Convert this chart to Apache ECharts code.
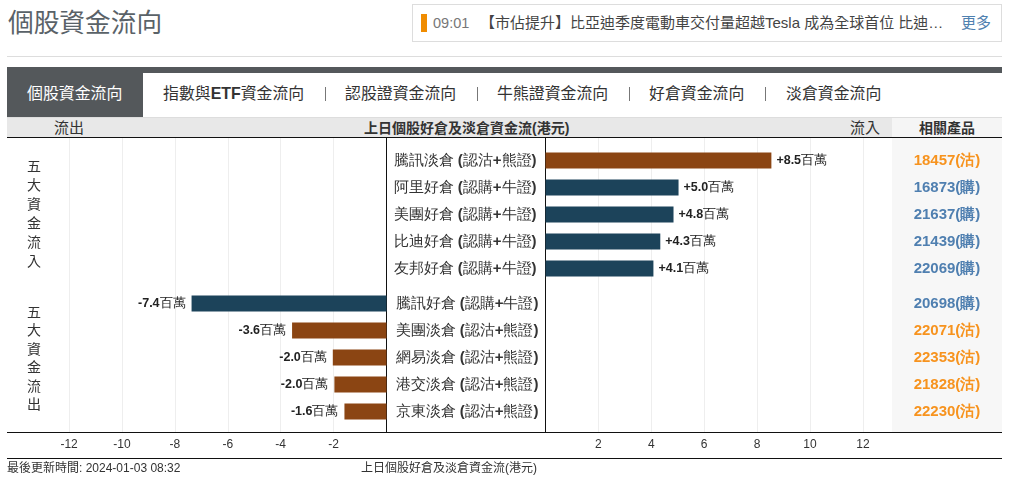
<!DOCTYPE html>
<html>
<head>
<meta charset="utf-8">
<title>個股資金流向</title>
<script src="https://cdn.jsdelivr.net/npm/echarts@6/dist/echarts.min.js"></script>
<style>
  html, body { margin: 0; padding: 0; background: #fff; }
  body { width: 1012px; height: 490px; position: relative; overflow: hidden;
    font-family: "Liberation Sans", Arial, "Noto Sans CJK TC", sans-serif; color: #333; }
  .abs { position: absolute; white-space: nowrap; }
  #main { position: absolute; left: 0; top: 0; width: 1012px; height: 490px; }
  .sep { top: 87px; width: 1px; height: 14px; background: #777; }
  .tab { font-size: 15.9px; color: #333; top: 85px; line-height: 18px; }
  .side { left: 26px; width: 16px; font-size: 14px; text-align: center; white-space: normal; color: #333; }
</style>
</head>
<body>
<!-- 頁頭 -->
<div class="abs" style="left:8px;top:7px;font-size:25.7px;line-height:32px;color:#5a6268;">個股資金流向</div>
<div class="abs" style="left:412px;top:4px;width:588px;height:36px;border:1px solid #ddd;"></div>
<div class="abs" style="left:421px;top:14px;width:6px;height:18px;background:#f08c00;"></div>
<div class="abs" style="left:433px;top:14px;font-size:14.5px;line-height:18px;color:#777;">09:01</div>
<div class="abs" style="left:480px;top:14px;font-size:15px;line-height:18px;color:#444;">【市佔提升】比亞迪季度電動車交付量超越Tesla 成為全球首位 比迪…</div>
<div class="abs" style="left:961px;top:14px;font-size:15px;line-height:18px;color:#4f81b0;">更多</div>
<div class="abs" style="left:7px;top:56px;width:995px;height:1px;background:#ddd;"></div>

<!-- 分頁 -->
<div class="abs" style="left:7px;top:67px;width:995px;height:6px;background:#54585b;"></div>
<div class="abs" style="left:7px;top:67px;width:136px;height:50px;background:#54585b;"></div>
<div class="abs" style="left:27px;top:85px;font-size:15.9px;line-height:18px;color:#fff;">個股資金流向</div>
<div class="abs tab" style="left:163px;">指數與<b>ETF</b>資金流向</div>
<div class="abs sep" style="left:325px;"></div>
<div class="abs tab" style="left:345px;">認股證資金流向</div>
<div class="abs sep" style="left:477px;"></div>
<div class="abs tab" style="left:497px;">牛熊證資金流向</div>
<div class="abs sep" style="left:629px;"></div>
<div class="abs tab" style="left:649px;">好倉資金流向</div>
<div class="abs sep" style="left:765px;"></div>
<div class="abs tab" style="left:786px;">淡倉資金流向</div>

<!-- 表頭 -->
<div class="abs" style="left:7px;top:117px;width:995px;height:20px;background:#e8e8e8;border-top:1px solid #ddd;box-sizing:border-box;"></div>
<div class="abs" style="left:892px;top:118px;width:110px;height:19px;background:#f5f5f5;"></div>
<div class="abs" style="left:892px;top:137px;width:110px;height:295px;background:#f7f7f7;"></div>
<div class="abs" style="left:54px;top:120px;font-size:15px;line-height:16px;">流出</div>
<div class="abs" style="left:364px;top:120px;font-size:14px;line-height:16px;font-weight:bold;">上日個股好倉及淡倉資金流(港元)</div>
<div class="abs" style="left:850px;top:120px;font-size:15px;line-height:16px;">流入</div>
<div class="abs" style="left:919px;top:120px;font-size:14px;line-height:16px;font-weight:bold;">相關產品</div>
<div class="abs" style="left:7px;top:137px;width:995px;height:1px;background:#111;"></div>

<!-- 圖表 -->
<div id="main"></div>
<div class="abs side" style="top:157px;line-height:18.9px;">五大資金流入</div>
<div class="abs side" style="top:303px;line-height:18.4px;">五大資金流出</div>
<div class="abs" style="left:7px;top:432px;width:995px;height:1px;background:#111;"></div>
<div class="abs" style="left:7px;top:458px;width:995px;height:1px;background:#111;"></div>
<div class="abs" style="left:7px;top:461px;font-size:12px;line-height:15px;">最後更新時間: 2024-01-03 08:32</div>
<div class="abs" style="left:361px;top:461px;font-size:12px;line-height:15px;">上日個股好倉及淡倉資金流(港元)</div>

<script>
var inNames = ['騰訊淡倉 (認沽+熊證)', '阿里好倉 (認購+牛證)', '美團好倉 (認購+牛證)', '比迪好倉 (認購+牛證)', '友邦好倉 (認購+牛證)'];
var inValues = [8.54, 5.03, 4.84, 4.34, 4.08];
var inCodes = ['18457(沽)', '16873(購)', '21637(購)', '21439(購)', '22069(購)'];
var outNames = ['騰訊好倉 (認購+牛證)', '美團淡倉 (認沽+熊證)', '網易淡倉 (認沽+熊證)', '港交淡倉 (認沽+熊證)', '京東淡倉 (認沽+熊證)'];
var outValues = [-7.37, -3.57, -2.03, -1.97, -1.59];
var outCodes = ['20698(購)', '22071(沽)', '22353(沽)', '21828(沽)', '22230(沽)'];

var UNIT = 26.45;
var AXIS_W = UNIT * 12;
var LEFT_ZERO = 386.5;
var RIGHT_ZERO = 545.5;

function barColor(name) {
  return name.indexOf('淡倉') >= 0 ? '#8b4513' : '#1c435a';
}
function codeColor(code) {
  return code.indexOf('沽') >= 0 ? '#f7931e' : '#4f7fb0';
}
function barData(names, values) {
  return values.map(function (v, i) {
    return { value: v, itemStyle: { color: barColor(names[i]) } };
  });
}
function moneyLabel(params) {
  var v = params.value;
  return '{num|' + (v > 0 ? '+' : '') + v.toFixed(1) + '}百萬';
}
function nameLabel(name) {
  // 括號和加號用粗體
  return name.replace(/[()+]/g, '{bold|$&}');
}

// 背景用的兩個座標系: 只畫格線和刻度
function bgXAxis(gridIndex, min, max, hideZeroAtMax) {
  return {
    type: 'value', gridIndex: gridIndex, min: min, max: max, interval: 2, position: 'bottom',
    axisLine: { show: false }, axisTick: { show: false },
    axisLabel: { color: '#333', fontSize: 12, margin: 7, showMinLabel: hideZeroAtMax, showMaxLabel: !hideZeroAtMax },
    splitLine: { show: true, lineStyle: { color: '#eeeeee' } }
  };
}
function hiddenXAxis(gridIndex, min, max) {
  return { type: 'value', gridIndex: gridIndex, min: min, max: max, show: false };
}
function bgYAxis(gridIndex) {
  return {
    type: 'value', gridIndex: gridIndex, min: 0, max: 1, position: gridIndex === 0 ? 'right' : 'left',
    axisLine: { show: true, onZero: false, lineStyle: { color: '#111', width: 1 } },
    axisTick: { show: false }, axisLabel: { show: false }, splitLine: { show: false }
  };
}
function nameAxis(gridIndex, data, position, margin, align) {
  return {
    type: 'category', gridIndex: gridIndex, data: data, inverse: true, position: position,
    axisLine: { show: false }, axisTick: { show: false },
    axisLabel: {
      interval: 0, margin: margin, align: align, color: '#333', fontSize: 15, formatter: nameLabel,
      rich: { bold: { fontSize: 15, fontWeight: 'bold', color: '#333' } }
    }
  };
}
function codeAxis(gridIndex, data, margin) {
  return {
    type: 'category', gridIndex: gridIndex, data: data, inverse: true, position: 'right',
    axisLine: { show: false }, axisTick: { show: false },
    axisLabel: { interval: 0, margin: margin, align: 'center', color: codeColor, fontSize: 15, fontWeight: 'bold' }
  };
}

function valueLabel(position, distance) {
  return {
    show: true, position: position, formatter: moneyLabel, color: '#222', fontSize: 13, distance: distance,
    rich: { num: { fontSize: 12.5, fontWeight: 'bold', color: '#222' } }
  };
}

var chart = echarts.init(document.getElementById('main'));
chart.setOption({
  animation: false,
  grid: [
    { left: LEFT_ZERO - AXIS_W, top: 138, width: AXIS_W, height: 294 },
    { left: RIGHT_ZERO, top: 138, width: AXIS_W, height: 294 },
    { left: RIGHT_ZERO, top: 147, width: AXIS_W, height: 135 },
    { left: LEFT_ZERO - AXIS_W, top: 290, width: AXIS_W, height: 135 }
  ],
  xAxis: [
    bgXAxis(0, -12, 0, true),
    bgXAxis(1, 0, 12, false),
    hiddenXAxis(2, 0, 12),
    hiddenXAxis(3, -12, 0)
  ],
  yAxis: [
    bgYAxis(0),
    bgYAxis(1),
    nameAxis(2, inNames, 'left', 9, 'right'),
    codeAxis(2, inCodes, 947 - RIGHT_ZERO - AXIS_W),
    nameAxis(3, outNames, 'right', 9, 'left'),
    codeAxis(3, outCodes, 947 - LEFT_ZERO)
  ],
  series: [
    {
      name: '流入', type: 'bar', xAxisIndex: 2, yAxisIndex: 2, barWidth: 16,
      data: barData(inNames, inValues),
      label: valueLabel('right', 5)
    },
    {
      name: '流出', type: 'bar', xAxisIndex: 3, yAxisIndex: 4, barWidth: 16,
      data: barData(outNames, outValues),
      label: valueLabel('left', 6)
    }
  ]
});
</script>
</body>
</html>
